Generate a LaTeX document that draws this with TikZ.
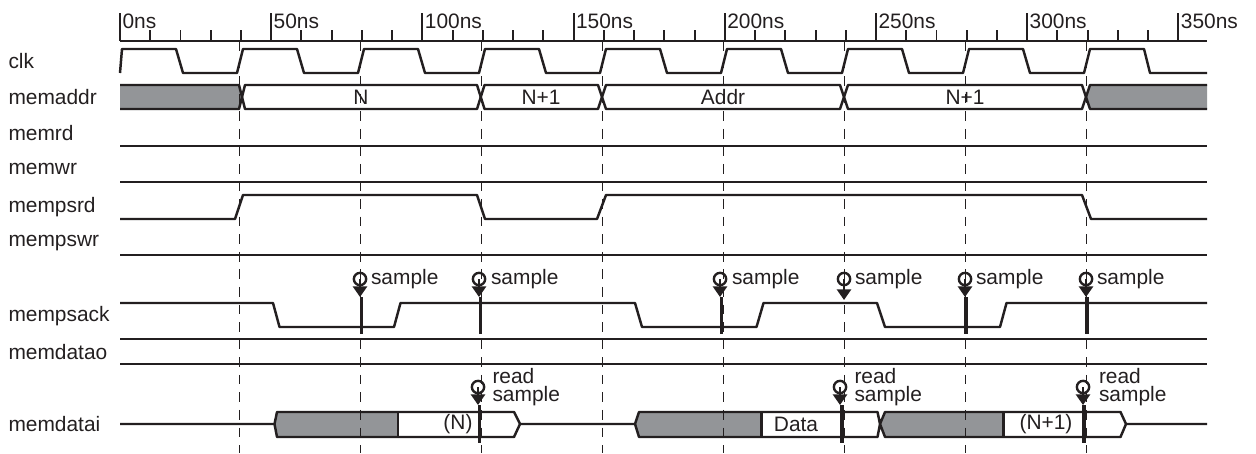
\documentclass[tikz,border=0pt]{standalone}
\usepackage{fontspec}
\setmainfont{Liberation Sans}
\usetikzlibrary{arrows.meta}
\definecolor{ink}{HTML}{231F20}
\definecolor{band}{HTML}{939598}
\tikzset{
  x=0.02cm,y=-0.02cm,
  wave/.style={draw=ink,line width=1.4pt,line join=round},
  tick/.style={draw=ink,line width=1.1pt},
  guide/.style={draw=ink,line width=0.55pt,dash pattern=on 5.5pt off 4.5pt},
  txt/.style={font=\fontsize{11.9}{12}\selectfont,text=ink,inner sep=0pt,outer sep=0pt},
  lab/.style={txt,anchor=west},
  ring/.style={circle,draw=ink,line width=1.35pt,minimum size=7pt,inner sep=0pt},
  probe/.style={draw=ink,line width=1.2pt,-{Triangle[length=6pt,width=8pt]}},
  stem/.style={draw=ink,line width=1.9pt}
}
\newcommand{\samp}[6]{% name, ring x, ring y, stem x, stem top, stem bottom
  \node[ring] (r#1) at (#2,#3) {};
  \coordinate (h#1) at (#2,#5);
  \draw[probe] (r#1.center) -- (h#1);
  \coordinate (a#1) at (#4,#5);
  \coordinate (b#1) at (#4,#6);
  \draw[stem] (a#1) -- (b#1);
}
\begin{document}
\begin{tikzpicture}
\useasboundingbox (0,0) rectangle (1256,453);
% ruler
\draw[wave] (120,41) -- (1207,41);
\foreach \k in {0,...,35} \draw[tick] ({120+30.24*\k},30) -- ({120+30.24*\k},41);
\foreach \k/\t in {0/0,1/50,2/100,3/150,4/200,5/250,6/300,7/350}{
  \draw[tick] ({120+151.2*\k},13) -- ({120+151.2*\k},41);
  \node[lab] (t\t) at ({122.5+151.2*\k},21) {\t ns};
}
% labels
\foreach \n/\y in {clk/61,memaddr/97,memrd/133,memwr/169,mempsrd/207,mempswr/243,mempsack/316,memdatao/352,memdatai/424}
  \node[lab] (l\n) at (8.5,\y) {\n};
% clk
\draw[wave] (120,73) -- (122,49)
  foreach \k in {0,...,7} { -- ({176+121*\k},49) -- ({183+121*\k},73) -- ({237+121*\k},73) -- ({243+121*\k},49)}
  -- (1144,49) -- (1150,73) -- (1207,73);
% memaddr
\fill[band] (120,85) -- (239,85) -- (242,97) -- (239,109) -- (120,109) -- cycle;
\fill[band] (1207,85) -- (1090,85) -- (1086,97) -- (1090,109) -- (1207,109) -- cycle;
\draw[wave] (120,85) -- (239,85) -- (245,109) -- (477,109) -- (484.5,85) -- (598,85) -- (606,109) -- (840,109) -- (848,85) -- (1082,85) -- (1090,109) -- (1207,109);
\draw[wave] (120,109) -- (239,109) -- (245,85) -- (477,85) -- (484.5,109) -- (598,109) -- (606,85) -- (840,85) -- (848,109) -- (1082,109) -- (1090,85) -- (1207,85);
\node[txt] (aN) at (361,97) {N};
\node[txt] (aN1) at (541,97) {N+1};
\node[txt] (aAddr) at (723,97) {Addr};
\node[txt] (aN2) at (965,97) {N+1};
% flat signals
\draw[wave] (120,146) -- (1207,146);
\draw[wave] (120,182) -- (1207,182);
\draw[wave] (120,255) -- (1207,255);
\draw[wave] (120,339) -- (1207,339);
\draw[wave] (120,364) -- (1207,364);
% mempsrd
\draw[wave] (120,219) -- (235,219) -- (243,195) -- (477,195) -- (485,219) -- (597,219) -- (606,195) -- (1082,195) -- (1091,219) -- (1207,219);
% mempsack
\draw[wave] (120,303) -- (273,303) -- (279.5,327) -- (394,327) -- (400.5,303) -- (635,303) -- (642,327) -- (756.5,327) -- (763.5,303) -- (877,303) -- (885,327) -- (1000,327) -- (1006.5,303) -- (1207,303);
% memdatai
\fill[band] (274.5,424) -- (277,412) -- (398,412) -- (398,437) -- (277,437) -- cycle;
\fill[band] (635,424) -- (639,412) -- (761.5,412) -- (761.5,437) -- (639,437) -- cycle;
\fill[band] (880,424) -- (885,412) -- (1003.5,412) -- (1003.5,437) -- (885,437) -- cycle;
\draw[wave] (120,424) -- (274.5,424) -- (277,412) -- (514,412) -- (520,424) -- (635,424) -- (639,412) -- (877.5,412) -- (880,424) -- (885,412) -- (1120.5,412) -- (1126,424) -- (1207,424);
\draw[wave] (274.5,424) -- (277,437) -- (514,437) -- (520,424);
\draw[wave] (635,424) -- (639,437) -- (877.5,437) -- (880,424) -- (885,437) -- (1120.5,437) -- (1126,424);
\draw[wave] (398,412) -- (398,437);
\draw[wave] (761.5,412) -- (761.5,437);
\draw[wave] (1003.5,412) -- (1003.5,437);
\node[txt] (dN) at (458,424) {(N)};
\node[txt] (dData) at (796,424) {Data};
\node[txt] (dN1) at (1046,424) {(N+1)};
% guides
\foreach \gx in {239,360.5,481,602.5,723.5,844,965,1086}
  \draw[guide] (\gx,41) -- (\gx,453);
% samples
\samp{s1}{360}{279}{361.5}{297}{334}
\samp{s2}{479}{279}{480.5}{297}{334}
\samp{s3}{720}{279}{721.5}{297}{334}
\samp{s5}{965}{279}{966}{297}{334}
\samp{s6}{1086}{279}{1087}{297}{334}
\node[ring] (rs4) at (844,279) {};
\coordinate (hs4) at (844,300);
\draw[probe] (rs4.center) -- (hs4);
\foreach \n/\x in {a/371,b/491,c/732,d/855,e/976,f/1097}
  \node[lab] (sm\n) at (\x,279) {sample};
\samp{q1}{478}{387}{479.5}{405}{443}
\samp{q2}{840}{387}{842}{405}{443}
\samp{q3}{1083}{387}{1084}{405}{443}
\foreach \n/\x in {a/492.5,b/854.5,c/1099}{
  \node[lab] (rd\n) at (\x,376) {read};
  \node[lab] (rs\n) at (\x,396.5) {sample};
}
\end{tikzpicture}
\end{document}
